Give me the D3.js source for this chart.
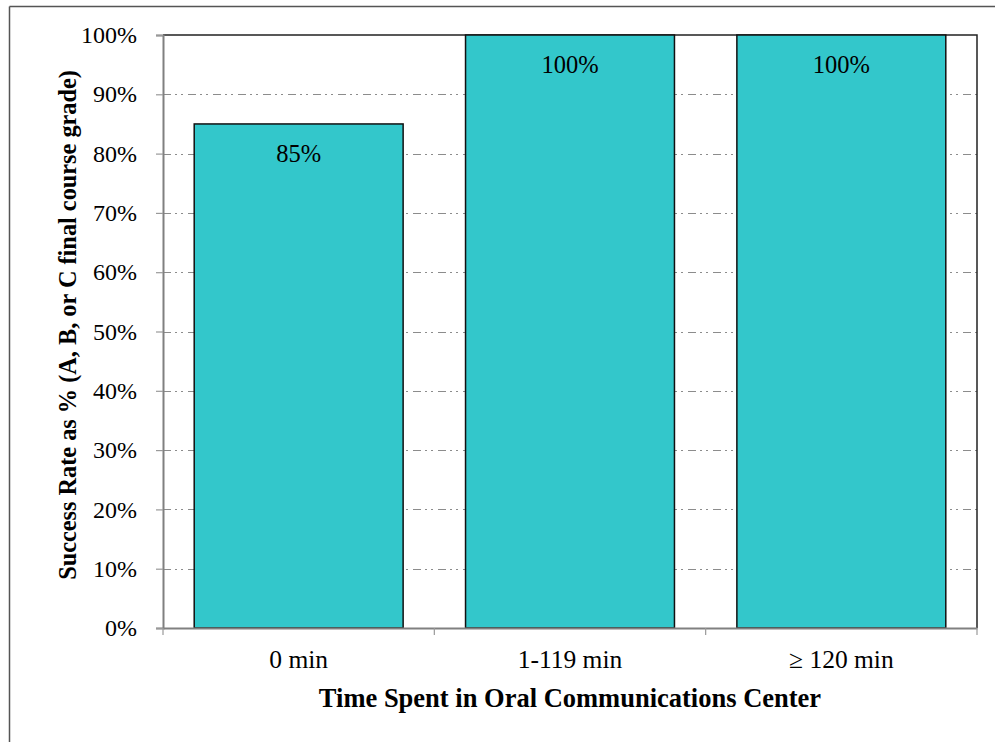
<!DOCTYPE html>
<html>
<head>
<meta charset="utf-8">
<script src="https://cdn.jsdelivr.net/npm/d3@7"></script>
<style>
  html, body { margin: 0; padding: 0; background: #fff; }
  svg { display: block; }
</style>
</head>
<body>
<svg id="chart" width="995" height="742"></svg>
<script>
// Success rate by time spent in the Oral Communications Center
const categories = ["0 min", "1-119 min", "\u2265 120 min"];
const successRates = [85, 100, 100];
const valueLabels = ["85%", "100%", "100%"];
const yTicks = [0, 10, 20, 30, 40, 50, 60, 70, 80, 90, 100];

const svg = d3.select("#chart");
const W = 995, H = 742;
const plot = { left: 163, top: 35, right: 977, bottom: 628 };
const serif = "'Liberation Serif', 'Times New Roman', serif";

// outer frame edges (left and top)
svg.append("line").attr("x1", 9.5).attr("y1", 6.5).attr("x2", W).attr("y2", 6.5)
  .attr("stroke", "#555").attr("stroke-width", 1.5);
svg.append("line").attr("x1", 9.5).attr("y1", 6.5).attr("x2", 9.5).attr("y2", H)
  .attr("stroke", "#555").attr("stroke-width", 1.5);

const x = d3.scaleBand().domain(categories)
  .range([plot.left, plot.right]).paddingInner(0.23).paddingOuter(0.115);
const xBand = d3.scaleBand().domain(categories).range([plot.left, plot.right]);
const y = d3.scaleLinear().domain([0, 100]).range([plot.bottom, plot.top]);

// gridlines
svg.append("g").selectAll("line").data(yTicks.filter(t => t > 0 && t < 100)).join("line")
  .attr("x1", plot.left).attr("x2", plot.right)
  .attr("y1", d => Math.round(y(d)) + 0.5).attr("y2", d => Math.round(y(d)) + 0.5)
  .attr("stroke", "#8c8c8c").attr("stroke-width", 1)
  .attr("stroke-dasharray", "8,4,2,4,2,5");

// plot frame top and right
svg.append("path")
  .attr("d", `M${plot.left},${plot.top}H${plot.right}V${plot.bottom}`)
  .attr("fill", "none").attr("stroke", "#222").attr("stroke-width", 1.5);

// bars
svg.append("g").selectAll("rect").data(successRates).join("rect")
  .attr("x", (d, i) => x(categories[i]))
  .attr("y", d => y(d))
  .attr("width", x.bandwidth())
  .attr("height", d => y(0) - y(d))
  .attr("fill", "#33C7CB")
  .attr("stroke", "#111").attr("stroke-width", 1.5);

// value labels
svg.append("g").selectAll("text").data(successRates).join("text")
  .attr("x", (d, i) => x(categories[i]) + x.bandwidth() / 2)
  .attr("y", d => y(d) + 38)
  .attr("text-anchor", "middle")
  .attr("font-family", serif).attr("font-size", 24.5)
  .attr("fill", "#000")
  .text((d, i) => valueLabels[i]);

// y axis
const yAxis = svg.append("g").attr("transform", `translate(${plot.left},0)`)
  .call(d3.axisLeft(y).tickValues(yTicks).tickFormat(d => d + "%").tickSize(7).tickPadding(19));
yAxis.select(".domain").attr("stroke", "#808080").attr("stroke-width", 2);
yAxis.selectAll(".tick line").attr("stroke", "#999").attr("stroke-width", 1.2);
yAxis.selectAll(".tick text").attr("font-family", serif).attr("font-size", 24).attr("fill", "#000");

// x axis
const xAxis = svg.append("g").attr("transform", `translate(0,${plot.bottom})`)
  .call(d3.axisBottom(xBand).tickSize(0).tickPadding(22));
xAxis.select(".domain").attr("stroke", "#808080").attr("stroke-width", 2);
xAxis.selectAll(".tick text").attr("font-family", serif).attr("font-size", 25.5).attr("fill", "#000");
// category boundary ticks
const bounds = categories.map(c => xBand(c)).concat([plot.right]);
svg.append("g").selectAll("line").data(bounds).join("line")
  .attr("x1", d => d).attr("x2", d => d)
  .attr("y1", plot.bottom).attr("y2", plot.bottom + 7)
  .attr("stroke", "#999").attr("stroke-width", 1.2);

// axis titles
svg.append("text")
  .attr("x", 570).attr("y", 707)
  .attr("text-anchor", "middle")
  .attr("font-family", serif).attr("font-size", 26.5).attr("font-weight", "bold")
  .text("Time Spent in Oral Communications Center");

svg.append("text")
  .attr("transform", "translate(76,325) rotate(-90)")
  .attr("text-anchor", "middle")
  .attr("font-family", serif).attr("font-size", 24.3).attr("font-weight", "bold")
  .text("Success Rate as % (A, B, or C final course grade)");
</script>
</body>
</html>
